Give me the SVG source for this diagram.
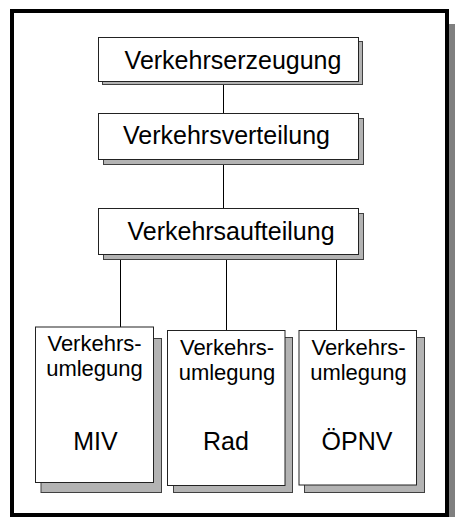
<svg xmlns="http://www.w3.org/2000/svg" width="455" height="517" viewBox="0 0 455 517">
  <style>
    .frame { fill: #ffffff; stroke: #000000; stroke-width: 4; }
    .frame-shadow { fill: #808080; }
    .shadow { fill: #b3b3b3; stroke: #404040; stroke-width: 1; }
    .box { fill: #ffffff; stroke: #222222; stroke-width: 1; }
    .link { stroke: #000000; stroke-width: 1; fill: none; }
    text { font-family: "Liberation Sans", Arial, sans-serif; fill: #000000; text-anchor: middle; }
    .big { font-size: 25px; }
    .small { font-size: 22px; }
  </style>

  <!-- page frame with drop shadow -->
  <rect class="frame-shadow" x="22" y="24" width="440" height="510"/>
  <rect class="frame" x="12" y="11" width="435" height="504"/>

  <!-- connectors -->
  <g id="connectors">
    <line class="link" x1="223.5" y1="82" x2="223.5" y2="113.5"/>
    <line class="link" x1="223.5" y1="165" x2="223.5" y2="208.5"/>
    <line class="link" x1="120.5" y1="260" x2="120.5" y2="327"/>
    <line class="link" x1="226.5" y1="260" x2="226.5" y2="330.5"/>
    <line class="link" x1="336.5" y1="260" x2="336.5" y2="330.5"/>
  </g>

  <g id="verkehrserzeugung">
    <rect class="shadow" x="102.5" y="41.5" width="260" height="43"/>
    <rect class="box" x="98.5" y="37.5" width="260" height="44"/>
    <text class="big" x="233" y="68.5">Verkehrserzeugung</text>
  </g>

  <g id="verkehrsverteilung">
    <rect class="shadow" x="103.5" y="118.5" width="260" height="46"/>
    <rect class="box" x="98.5" y="113.5" width="260" height="46"/>
    <text class="big" x="226.5" y="143.5">Verkehrsverteilung</text>
  </g>

  <g id="verkehrsaufteilung">
    <rect class="shadow" x="103.5" y="213.5" width="260" height="46"/>
    <rect class="box" x="98.5" y="208.5" width="260" height="46"/>
    <text class="big" x="231" y="239.5">Verkehrsaufteilung</text>
  </g>

  <g id="umlegung-miv">
    <rect class="shadow" x="41" y="338.5" width="120.5" height="154"/>
    <rect class="box" x="35.5" y="327" width="118" height="155.5"/>
    <text class="small" x="94.5" y="350.5">Verkehrs-</text>
    <text class="small" x="94.5" y="375.5">umlegung</text>
    <text class="big" x="95.5" y="449.5">MIV</text>
  </g>

  <g id="umlegung-rad">
    <rect class="shadow" x="173.5" y="337.5" width="119" height="155"/>
    <rect class="box" x="167.5" y="330.5" width="117.5" height="155"/>
    <text class="small" x="227" y="355">Verkehrs-</text>
    <text class="small" x="227" y="380">umlegung</text>
    <text class="big" x="226" y="450">Rad</text>
  </g>

  <g id="umlegung-oepnv">
    <rect class="shadow" x="304.5" y="337.5" width="120" height="155"/>
    <rect class="box" x="299" y="330.5" width="117.5" height="154.5"/>
    <text class="small" x="358.5" y="355">Verkehrs-</text>
    <text class="small" x="358.5" y="380">umlegung</text>
    <text class="big" x="357" y="450">ÖPNV</text>
  </g>
</svg>
